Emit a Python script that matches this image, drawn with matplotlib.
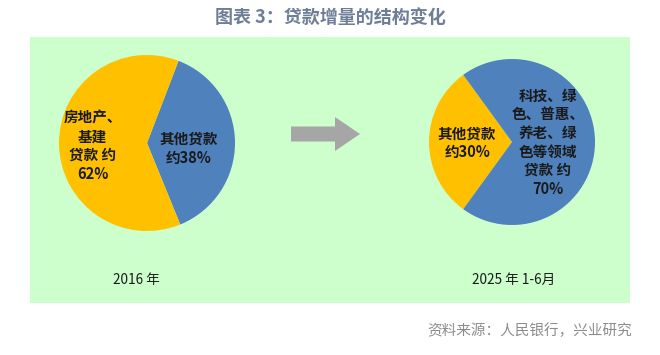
import matplotlib
matplotlib.use('Agg')
import matplotlib.pyplot as plt
from matplotlib.patches import Rectangle, FancyArrow

plt.rcParams['font.family'] = ['Noto Sans CJK SC', 'DejaVu Sans']

# data
title = '图表 3：贷款增量的结构变化'
source = '资料来源：人民银行，兴业研究'

left_period = '2016 年'
left_values = [38, 62]
left_labels = ['其他贷款\n约38%', '房地产、\n基建\n贷款 约\n62%']

right_period = '2025 年 1-6月'
right_values = [30, 70]
right_labels = ['其他贷款\n约30%', '科技、绿\n色、普惠、\n养老、绿\n色等领域\n贷款 约\n70%']

BLUE = '#4F81BD'
YELLOW = '#FFC000'
PANEL = '#CCFFCC'
INK = '#1A1A1A'

W, H = 660, 355
fig = plt.figure(figsize=(W / 100, H / 100), dpi=100)


def box(x0, y0, x1, y1):
    # pixel box (top-left origin) -> figure fraction rect
    return [x0 / W, 1 - y1 / H, (x1 - x0) / W, (y1 - y0) / H]


# background layer: green panel, arrow and captions
bg = fig.add_axes([0, 0, 1, 1], zorder=0)
bg.set_xlim(0, W)
bg.set_ylim(H, 0)
bg.axis('off')
bg.add_patch(Rectangle((30, 37), 600, 266, facecolor=PANEL, edgecolor='none'))
bg.add_patch(FancyArrow(291, 134, 44, 0, width=15, head_width=34,
                        head_length=25, color='#A6A6A6', linewidth=0))

bg.text(W / 2, 17, title, ha='center', va='center', fontsize=13,
        fontweight='bold', color='#6E7F95')
bg.text(113, 280, left_period, ha='left', va='center', fontsize=9.8, color=INK)
bg.text(472, 280, right_period, ha='left', va='center', fontsize=9.8, color=INK)
bg.text(632, 331, source, ha='right', va='center', fontsize=10.5,
        color='#8C8C8C')

lbl = dict(ha='center', va='center', fontsize=10.5, fontweight='bold',
           linespacing=1.2, color=INK)

# left pie
ax1 = fig.add_axes(box(59, 55, 235, 231), zorder=1)
ax1.pie(left_values, colors=[BLUE, YELLOW], startangle=69, counterclock=False,
        wedgeprops=dict(linewidth=0))
ax1.set_xlim(-1, 1)
ax1.set_ylim(-1, 1)
ax1.set_aspect('equal')
ax1.axis('off')
ax1.text(0.47, -0.06, left_labels[0], **lbl)
ax1.text(-0.62, -0.03, left_labels[1], **lbl)

# right pie
ax2 = fig.add_axes(box(429, 59, 595, 225), zorder=1)
ax2.pie(right_values, colors=[YELLOW, BLUE], startangle=180 - 54,
        counterclock=True, wedgeprops=dict(linewidth=0))
ax2.set_xlim(-1, 1)
ax2.set_ylim(-1, 1)
ax2.set_aspect('equal')
ax2.axis('off')
ax2.text(-0.54, -0.01, right_labels[0], **lbl)
ax2.text(0.43, 0.0, right_labels[1], **lbl)

fig.savefig('out.png', dpi=100)
